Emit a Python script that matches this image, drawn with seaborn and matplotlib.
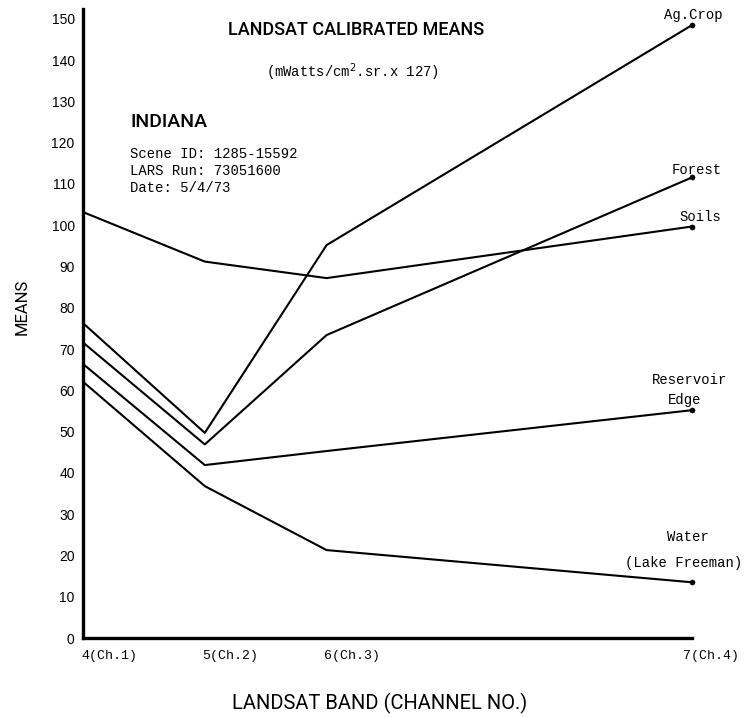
import matplotlib
matplotlib.use("Agg")
import matplotlib.pyplot as plt
import matplotlib.transforms as mtransforms
import seaborn as sns
import pandas as pd
import numpy as np

# ---- data ----
band_labels = ["4(Ch.1)", "5(Ch.2)", "6(Ch.3)", "7(Ch.4)"]
band_upper_um = [0.6, 0.7, 0.8, 1.1]   # band upper wavelength edge (x scale)
ag_crop   = [76.3, 49.7, 95.2, 148.5]
forest    = [71.6, 46.9, 73.4, 111.6]
soils     = [103.2, 91.2, 87.2, 99.7]
reservoir = [66.4, 41.9, 45.3, 55.2]
water     = [62.1, 36.8, 21.3, 13.5]
classes = ["Ag.Crop", "Forest", "Soils", "Reservoir Edge", "Water"]
series = [ag_crop, forest, soils, reservoir, water]

rows = []
for c, vals in zip(classes, series):
    for b, x, v in zip(band_labels, band_upper_um, vals):
        rows.append({"cls": c, "band": b, "x": x, "mean": v})
df = pd.DataFrame(rows)

sns.set_style("white")
plt.rcParams["font.family"] = ["DejaVu Sans"]
for k in ["text.color", "axes.labelcolor", "xtick.color", "ytick.color"]:
    plt.rcParams[k] = "black"

W, H = 746, 717
fig = plt.figure(figsize=(W / 100, H / 100), dpi=100)
ax = fig.add_axes([83 / W, 1 - 638 / H, (692 - 83) / W, (638 - 9) / H])

sns.lineplot(data=df, x="x", y="mean", units="cls", estimator=None,
             color="black", linewidth=1.5, ax=ax, legend=False)
last = df[df["x"] == band_upper_um[-1]]
sns.scatterplot(data=last, x="x", y="mean", color="black", s=14,
                edgecolor="black", ax=ax, legend=False, clip_on=False, zorder=5)

ax.set_xlim(band_upper_um[0], band_upper_um[-1])
ax.set_ylim(0, 152.4)
ax.set_xlabel("")
ax.set_ylabel("")

for s in ["top", "right"]:
    ax.spines[s].set_visible(False)
for s in ["left", "bottom"]:
    ax.spines[s].set_linewidth(2.4)
    ax.spines[s].set_color("black")

ax.set_yticks(np.arange(0, 151, 10))
ax.set_yticklabels([str(v) for v in range(0, 151, 10)], fontsize=10,
                   family=["Liberation Sans", "DejaVu Sans"])
ax.set_xticks(band_upper_um)
ax.set_xticklabels(band_labels, family=["Liberation Mono", "DejaVu Sans Mono"],
                   fontsize=9.5, ha="left")
ax.tick_params(axis="y", direction="inout", length=10, width=2, pad=1)
ax.tick_params(axis="x", direction="inout", length=10, width=1.5, pad=4)
offsets = [-2, -3, -3, -9]
for lbl, dx in zip(ax.get_xticklabels(), offsets):
    lbl.set_transform(lbl.get_transform() +
                      mtransforms.ScaledTranslation(dx / 100, 0, fig.dpi_scale_trans))

mono = ["Liberation Mono", "DejaVu Sans Mono"]
narrow = ["Roboto", "DejaVu Sans"]

def fp(x, y):
    return x / W, 1 - y / H

fig.text(*fp(356, 30), "LANDSAT CALIBRATED MEANS", family=narrow, fontsize=13,
         weight="medium", ha="center", va="center")
fig.text(*fp(352, 72), r"(mWatts/cm$^{2}$.sr.x 127)", family=mono, fontsize=10,
         ha="center", va="center")
fig.text(*fp(130, 122), "INDIANA", family=narrow, fontsize=14, weight="medium",
         ha="left", va="center")
for yy, t in zip([154, 171, 188], ["Scene ID: 1285-15592", "LARS Run: 73051600", "Date: 5/4/73"]):
    fig.text(*fp(130, yy), t, family=mono, fontsize=10, ha="left", va="center")

labels = [("Ag.Crop", 693, 15), ("Forest", 697, 170), ("Soils", 700, 217),
          ("Reservoir", 690, 380), ("Edge", 685, 400),
          ("Water", 688, 537), ("(Lake Freeman)", 684, 563)]
for t, x, y in labels:
    fig.text(*fp(x, y), t, family=mono, fontsize=10, ha="center", va="center")

fig.text(*fp(22, 307), "MEANS", family=narrow, fontsize=12, rotation=90,
         ha="center", va="center")
fig.text(*fp(380, 703), "LANDSAT BAND (CHANNEL NO.)", family=narrow, fontsize=14.5,
         ha="center", va="center")

fig.savefig("out.png", dpi=100)
